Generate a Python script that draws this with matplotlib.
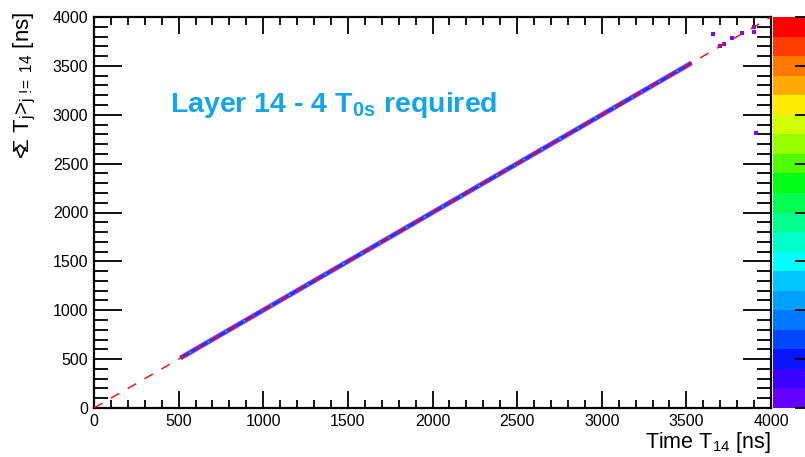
import matplotlib
matplotlib.use('Agg')
import matplotlib.pyplot as plt
from matplotlib.colors import ListedColormap
from matplotlib.ticker import MultipleLocator
import numpy as np

plt.rcParams['font.family'] = ['Liberation Sans', 'DejaVu Sans']
plt.rcParams['mathtext.fontset'] = 'custom'
plt.rcParams['mathtext.rm'] = 'Liberation Sans'
plt.rcParams['mathtext.it'] = 'Liberation Sans:italic'
plt.rcParams['mathtext.bf'] = 'Liberation Sans:bold'

# diagonal band of <sum T_j> vs T_14 (ns)
band_t14 = [510, 3530]
band_mean = [511, 3529]

# isolated entries past the end of the band
outlier_t14 = [3657, 3699, 3720, 3770, 3829, 3899, 3899, 3911]
outlier_mean = [3826, 3703, 3720, 3785, 3836, 3898, 3847, 2813]

# palette of the z scale, bottom to top
palette = ['#6400ff', '#3a00ff', '#0a14ff', '#0046ff', '#0078ff', '#00a0ff',
           '#00c8ff', '#00ffff', '#00ffc8', '#00ff8c', '#00ff50', '#00ff14',
           '#50ff00', '#96ff00', '#d2ff00', '#ffeb00', '#ffaa00', '#ff7800',
           '#ff3c00', '#ff0000']

W, H = 805, 457
fig = plt.figure(figsize=(W / 100, H / 100), dpi=100)
ax = fig.add_axes([94 / W, 1 - 408 / H, 677 / W, 391 / H])

ax.set_xlim(0, 4000)
ax.set_ylim(0, 4000)

# filled band, blue-purple around a bright core
ax.plot(band_t14, band_mean, color='#8a40ff', lw=3.6, solid_capstyle='butt', zorder=2)
ax.plot(band_t14, band_mean, color='#2030ff', lw=2.0, solid_capstyle='butt', zorder=3)
ax.plot(band_t14, band_mean, color='#30d060', lw=1.0, ls=(0, (1.5, 6)), zorder=4)
ax.scatter(outlier_t14, outlier_mean, s=6, marker='s', color='#6a10ff', lw=0, zorder=3)

# T_14 = <sum T_j> reference line
ax.plot([0, 4000], [0, 4000], color='red', lw=1.0, ls=(0, (7, 7)), zorder=5)

ax.xaxis.set_major_locator(MultipleLocator(500))
ax.yaxis.set_major_locator(MultipleLocator(500))
ax.xaxis.set_minor_locator(MultipleLocator(100))
ax.yaxis.set_minor_locator(MultipleLocator(100))
ax.tick_params(axis='both', which='both', direction='in', top=True, right=True,
               labelsize=11.5, width=1.3, pad=4)
ax.tick_params(axis='x', which='major', length=12)
ax.tick_params(axis='x', which='minor', length=6)
ax.tick_params(axis='y', which='major', length=20)
ax.tick_params(axis='y', which='minor', length=10)
for sp in ax.spines.values():
    sp.set_linewidth(1.6)

fig.text(771 / W, 1 - 448 / H, r'Time T$_{\mathrm{14}}$ [ns]', ha='right',
         va='baseline', fontsize=15.5)
fig.text(25 / W, 1 - 12 / H, r'<$\!\!\Sigma$ T$_{\mathrm{j}}$>$_{\mathrm{j\ !\!\!=\ 14}}$ [ns]',
         rotation=90, ha='center', va='top', fontsize=16)

fig.text(170 / W, 1 - 112 / H, r'Layer 14 - 4 T$_{\mathbf{0s}}$ required',
         ha='left', va='baseline', fontsize=20.5, fontweight='bold', color='#12a6e6')

# z colour scale, its right edge runs off the canvas
cax = fig.add_axes([773 / W, 1 - 408 / H, 40 / W, 391 / H])
n = len(palette)
cax.imshow(np.arange(n).reshape(n, 1), cmap=ListedColormap(palette), origin='lower',
           aspect='auto', extent=[0, 1, 0, 8], interpolation='nearest')
cax.set_xlim(0, 1)
cax.set_ylim(0, 8)
cax.set_xticks([])
cax.yaxis.tick_right()
cax.set_yticks(range(9))
cax.tick_params(axis='y', direction='in', length=13, width=1.3, labelright=False)
for sp in cax.spines.values():
    sp.set_visible(False)

fig.savefig('out.png', dpi=100)
